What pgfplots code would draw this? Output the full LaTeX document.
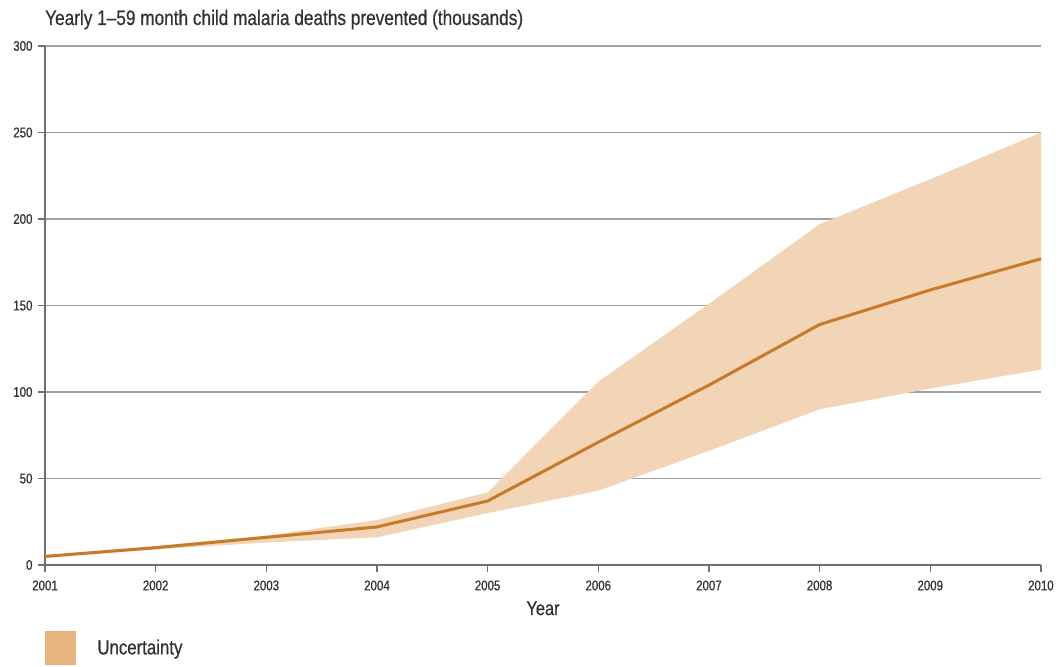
\documentclass[border=0pt]{standalone}
\usepackage{fontspec}
\setmainfont{Liberation Sans}[FakeStretch=0.82, FakeBold=0.6]
\usepackage{pgfplots}
\pgfplotsset{compat=1.18}
\definecolor{lineC}{HTML}{C87A28}
\definecolor{bandC}{HTML}{F2D5B6}
\definecolor{swatchC}{HTML}{E8B47E}
\definecolor{gridC}{HTML}{A0A0A0}
\definecolor{axisC}{HTML}{707070}
\definecolor{txtC}{HTML}{2E3338}
\begin{document}
\begin{tikzpicture}
\begin{axis}[
  scale only axis,
  width=996pt, height=519pt,
  xmin=2001, xmax=2010, ymin=0, ymax=300,
  axis lines*=left,
  axis line style={axisC, line width=1.4pt},
  xtick={2001,...,2010}, ytick={0,50,...,300},
  tick align=outside, major tick length=7pt,
  tick style={axisC, line width=1.2pt},
  ymajorgrids, grid style={gridC, line width=1.3pt},
  xticklabel style={font=\fontsize{14}{15}\selectfont, text=txtC, yshift=-5pt},
  yticklabel style={font=\fontsize{14}{15}\selectfont, text=txtC, xshift=-2pt},
  /pgf/number format/assume math mode=true,
  /pgf/number format/1000 sep={},
  xlabel={Year},
  xlabel style={font=\fontsize{20}{22}\selectfont, text=txtC, yshift=-4pt},
  clip=false,
  legend style={at={(rel axis cs:0,0)}, anchor=north west, yshift=-66pt, draw=none, fill=none,
    inner sep=0pt, outer sep=0pt, font=\fontsize{20.5}{22}\selectfont, text=txtC,
    column sep=0pt},
  legend cell align=left,
]
\addplot[fill=bandC, draw=none, forget plot] coordinates {
 (2001,5.5) (2002,11) (2003,17) (2004,26) (2005,42) (2006,106) (2007,151) (2008,197) (2009,223) (2010,250)
 (2010,113) (2009,102) (2008,90) (2007,66) (2006,43) (2005,30) (2004,16) (2003,13) (2002,9) (2001,4)
} -- cycle;
\addlegendimage{legend image code/.code={\fill[swatchC] (0pt,-16.5pt) rectangle (30pt,16.5pt); \path (50pt,0pt);}}
\addlegendentry{Uncertainty}
\addplot[lineC, line width=3pt, forget plot] coordinates {
 (2001,5) (2002,10) (2003,16) (2004,22) (2005,37) (2006,71) (2007,104) (2008,139) (2009,159) (2010,177)
};
\node[anchor=base west, font=\fontsize{21}{23}\selectfont, text=txtC, inner sep=0pt] at (rel axis cs:0,1) [yshift=21pt] {Yearly 1--59 month child malaria deaths prevented (thousands)};
\coordinate (o) at (rel axis cs:0,0);
\coordinate (t) at (rel axis cs:1,1);
\end{axis}
\pgfresetboundingbox
\path (o) ++(-45pt,-101pt) coordinate (a);
\path (t) ++(22pt,46pt) coordinate (b);
\path (a) rectangle (b);
\end{tikzpicture}
\end{document}
